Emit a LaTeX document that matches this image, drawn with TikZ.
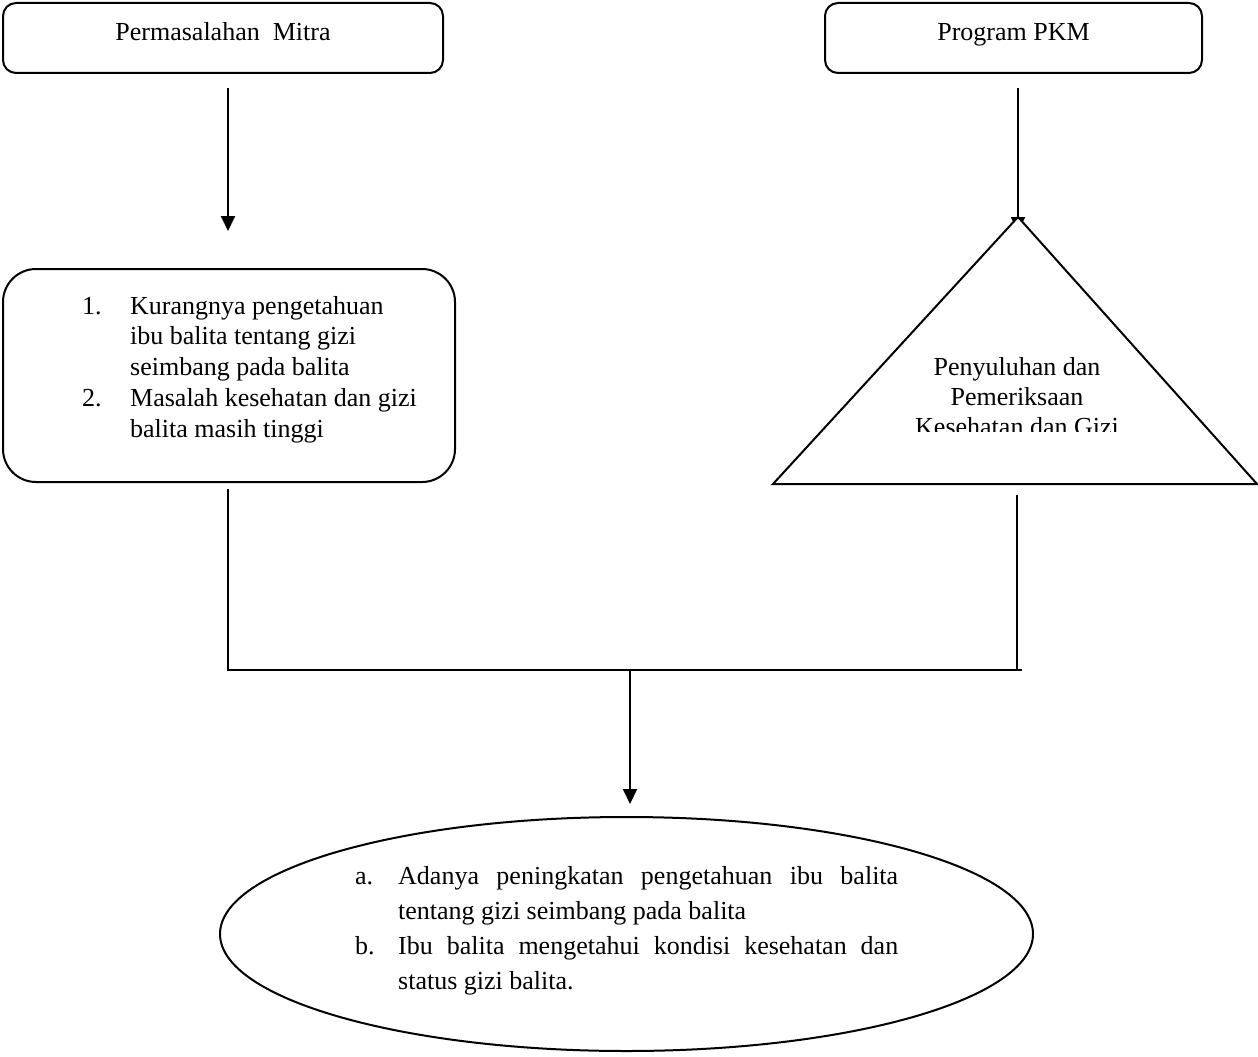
\documentclass[tikz,border=0pt]{standalone}
\usepackage{fontspec}
\setmainfont{Liberation Serif}
\usetikzlibrary{arrows.meta,shapes.geometric}
\tikzset{
  ln/.style={line width=2pt, black},
  arr/.style={ln, -{Triangle[width=14pt,length=15pt]}},
  topbox/.style={draw, line width=2pt, rounded corners=13pt, minimum height=70pt, inner sep=0pt, text height=18pt, text depth=12pt, font=\fontsize{26}{31}\selectfont},
  txt/.style={inner sep=0pt, font=\fontsize{26}{31}\selectfont},
}
\begin{document}
\begin{tikzpicture}[x=1pt,y=-1pt]
\useasboundingbox (0,0) rectangle (1258,1057);
% top boxes
\node[topbox, minimum width=440pt] (b1) at (223,38) {Permasalahan\ \ Mitra};
\node[topbox, minimum width=377pt] (b2) at (1013.5,38) {Program PKM};
% problem box
\node[draw, line width=2pt, rounded corners=33pt, minimum width=452pt, minimum height=213pt, inner sep=0pt] (b3) at (229,375.5) {};
\node[txt, anchor=base west] (t3) at (82,314) {\fontsize{26}{30.8}\selectfont\begin{tabular}[t]{@{}l@{}l@{}}
\makebox[48pt][l]{1.} & Kurangnya pengetahuan\\
 & ibu balita tentang gizi\\
 & seimbang pada balita\\
\makebox[48pt][l]{2.} & Masalah kesehatan dan gizi\\
 & balita masih tinggi
\end{tabular}};
% triangle
\coordinate (apex) at (1018,217);
\coordinate (tl) at (773,484);
\coordinate (tr) at (1257,484);
\coordinate (tb) at (1017,484);
\draw[arr] ([xshift=4.5pt,yshift=-14pt]b2.south) -- ([yshift=-15pt]apex);
\draw[ln, fill=white, line join=miter] (apex) -- (tr) -- (tl) -- cycle;
\begin{scope}
\clip (850,330) rectangle (1200,431);
\node[txt, anchor=base] (tt) at (1017,375) {\fontsize{26}{30}\selectfont\begin{tabular}[t]{@{}c@{}}Penyuluhan dan\\ Pemeriksaan\\ Kesehatan dan Gizi\end{tabular}};
\end{scope}
% arrow left
\draw[arr] ([xshift=5pt,yshift=-14pt]b1.south) -- ([xshift=-1pt,yshift=37pt]b3.north);
% outcome ellipse
\node[draw, ellipse, line width=2pt, minimum width=813pt, minimum height=234pt, inner sep=0pt] (e) at (626.5,934) {};
\node[txt, anchor=base west] (et) at (355,884) {\fontsize{26}{35.3}\selectfont\begin{tabular}[t]{@{}l@{}l@{}}
\makebox[43pt][l]{a.} & \makebox[500pt][s]{Adanya peningkatan pengetahuan ibu balita}\\
 & tentang gizi seimbang pada balita\\
\makebox[43pt][l]{b.} & \makebox[500pt][s]{Ibu balita mengetahui kondisi kesehatan dan}\\
 & status gizi balita.
\end{tabular}};
% joining lines
\coordinate (hl) at (227,670);
\coordinate (hr) at (1022,670);
\coordinate (j) at (630,670);
\draw[ln] ([xshift=-1pt,yshift=-6pt]b3.south) -- ([xshift=-1pt]b3.south |- hl);
\draw[ln] ([yshift=-11pt]tb) -- (tb |- hl);
\draw[ln] (hl) -- (hr);
\draw[arr] (j) -- ([yshift=12pt]j |- e.north);
\end{tikzpicture}
\end{document}
